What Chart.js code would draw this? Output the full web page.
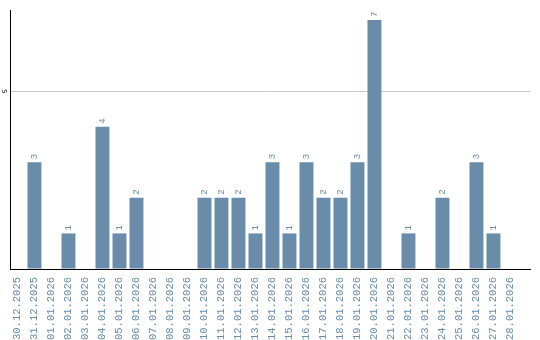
<!DOCTYPE html>
<html>
<head>
<meta charset="utf-8">
<script src="https://cdn.jsdelivr.net/npm/chart.js@4"></script>
<style>
  html, body { margin: 0; padding: 0; background: #fff; }
  #wrap { width: 540px; height: 340px; }
</style>
</head>
<body>
<div id="wrap"><canvas id="myChart"></canvas></div>
<script>
// days shown on the x axis
var categories = ['30.12.2025', '31.12.2025', '01.01.2026', '02.01.2026', '03.01.2026',
  '04.01.2026', '05.01.2026', '06.01.2026', '07.01.2026', '08.01.2026', '09.01.2026',
  '10.01.2026', '11.01.2026', '12.01.2026', '13.01.2026', '14.01.2026', '15.01.2026',
  '16.01.2026', '17.01.2026', '18.01.2026', '19.01.2026', '20.01.2026', '21.01.2026',
  '22.01.2026', '23.01.2026', '24.01.2026', '25.01.2026', '26.01.2026', '27.01.2026',
  '28.01.2026'];

// count per day
var counts = [0, 3, 0, 1, 0, 4, 1, 2, 0, 0, 0, 2, 2, 2, 1, 3, 1, 3, 2, 2, 3, 7, 0, 1, 0, 2, 0, 3, 1, 0];

// y axis
var yTickLabels = [5];
var yMax = 7.28;

var blue = '#6a8cab';

// value labels above the bars, rotated like the axis labels
var barValues = {
    id: 'barValues',
    afterDatasetsDraw: function (chart) {
        var ctx = chart.ctx;
        var meta = chart.getDatasetMeta(0);
        ctx.save();
        ctx.fillStyle = blue;
        ctx.font = '9px "Liberation Mono"';
        ctx.textAlign = 'left';
        ctx.textBaseline = 'middle';
        meta.data.forEach(function (bar, i) {
            if (!counts[i]) return;
            ctx.save();
            ctx.translate(bar.x, bar.y - 3);
            ctx.rotate(-Math.PI / 2);
            ctx.fillText(String(counts[i]), 0, 0);
            ctx.restore();
        });
        ctx.restore();
    }
};

var ctx = document.getElementById('myChart').getContext('2d');
var chart = new Chart(ctx, {
    type: 'bar',
    data: {
        datasets: [{
            data: counts.map(function (v, i) { return { x: i, y: v }; }),
            backgroundColor: blue,
            borderWidth: 0,
            categoryPercentage: 1,
            barPercentage: 0.82
        }]
    },
    plugins: [barValues],
    options: {
        responsive: true,
        maintainAspectRatio: false,
        animation: false,
        layout: { padding: { top: 10, right: 10, left: 0, bottom: 0 } },
        plugins: {
            legend: { display: false },
            tooltip: { enabled: false }
        },
        scales: {
            x: {
                type: 'linear',
                min: -0.44,
                max: 30.15,
                offset: false,
                grid: { display: false, drawTicks: false },
                border: { color: '#000', width: 1 },
                ticks: {
                    stepSize: 1,
                    includeBounds: false,
                    autoSkip: false,
                    minRotation: 90,
                    maxRotation: 90,
                    padding: 8,
                    color: blue,
                    font: { family: 'Liberation Mono', size: 10.5 },
                    callback: function (v) { return categories[v] || ''; }
                },
                afterFit: function (s) {
                    s.height = 71;
                    s.paddingLeft = 0;
                    s.paddingRight = 0;
                }
            },
            y: {
                min: 0,
                max: yMax,
                grid: { color: '#c8c8c8', drawTicks: false },
                border: { color: '#000', width: 1 },
                ticks: {
                    stepSize: 5,
                    includeBounds: false,
                    minRotation: 90,
                    maxRotation: 90,
                    crossAlign: 'center',
                    padding: 2.5,
                    color: '#000',
                    font: { family: 'Liberation Mono', size: 7 },
                    callback: function (v) { return yTickLabels.indexOf(v) >= 0 ? String(v) : ''; }
                },
                afterFit: function (s) {
                    s.width = 10;
                    s.paddingTop = 0;
                    s.paddingBottom = 0;
                }
            }
        }
    }
});
</script>
</body>
</html>
